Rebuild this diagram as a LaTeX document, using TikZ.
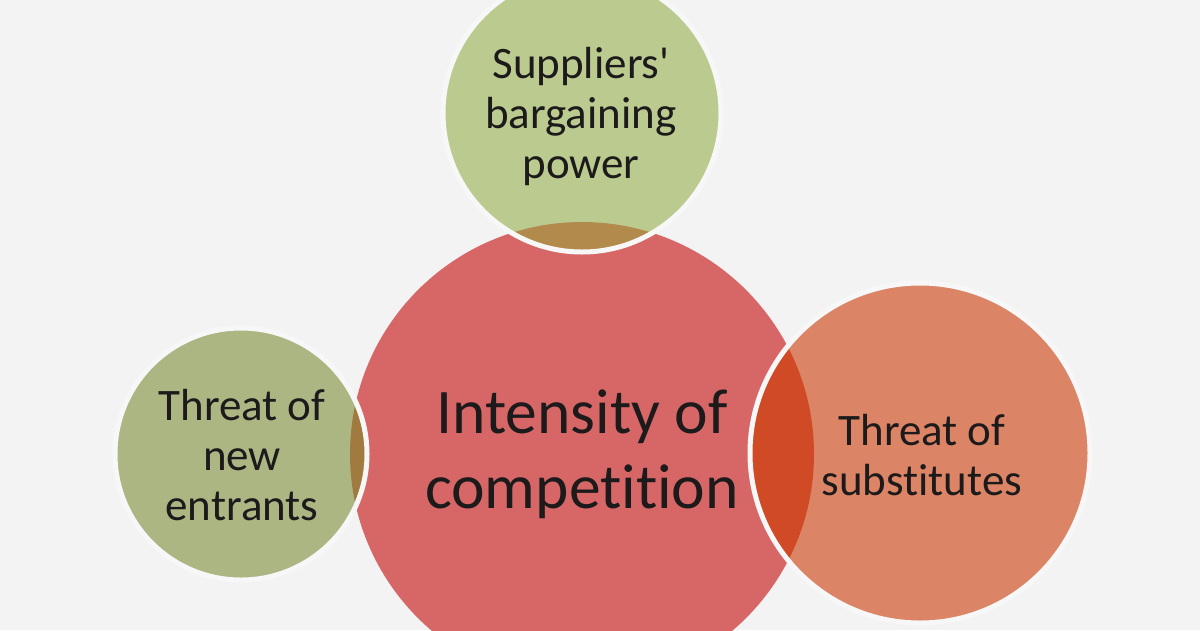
\documentclass[tikz,border=0pt]{standalone}
\usepackage{fontspec}
\setmainfont{Carlito}[Ligatures={TeXOff,NoCommon}]
\definecolor{bg}{HTML}{F3F3F3}
\definecolor{mainred}{HTML}{D66766}
\definecolor{greentop}{HTML}{BBCB90}
\definecolor{greenleft}{HTML}{ABB683}
\definecolor{orangeright}{HTML}{DB8466}
\definecolor{lenstop}{HTML}{B28A4C}
\definecolor{lensleft}{HTML}{A07A3E}
\definecolor{lensright}{HTML}{D04A26}
\definecolor{ink}{HTML}{1C1A1A}
\definecolor{rim}{HTML}{F7F7F7}
\tikzset{
  disc/.style={circle, inner sep=0pt, outer sep=0pt, draw=none},
  rimline/.style={draw=rim, line width=5pt},
  bigtext/.style={text=ink, align=center, font=\fontsize{63.5}{75}\selectfont},
  smalltext/.style={text=ink, align=center, font=\fontsize{45}{50}\selectfont}
}
\begin{document}
\begin{tikzpicture}[x=1pt,y=-1pt]
\useasboundingbox (0,0) rectangle (1200,630);
\clip (0,0) rectangle (1200,630);
\fill[bg] (0,0) rectangle (1200,630);
% main circle
\node[disc, fill=mainred, minimum size=464pt] (main) at (582,454) {};
% top circle
\node[disc, fill=greentop, minimum size=278pt] (sup) at (582,113) {};
\begin{scope}
  \clip (sup.center) circle (139pt);
  \fill[lenstop] (main.center) circle (232pt);
\end{scope}
\draw[rimline] (sup.center) circle (139pt);
% left circle
\node[disc, fill=greenleft, minimum size=252pt] (ent) at (241,454) {};
\begin{scope}
  \clip (ent.center) circle (126pt);
  \fill[lensleft] (main.center) circle (232pt);
\end{scope}
\draw[rimline] (ent.center) circle (126pt);
% right circle
\node[disc, fill=orangeright, minimum size=340pt] (sub) at (920,453) {};
\begin{scope}
  \clip (sub.center) circle (170pt);
  \fill[lensright] (main.center) circle (232pt);
\end{scope}
\draw[rimline] (sub.center) circle (170pt);
% texts
\node[bigtext] (maint) at (582,454) {Intensity of\\competition};
\node[smalltext] (supt) at (581,116) {Suppliers'\\bargaining\\power};
\node[smalltext] (entt) at (242,455) {Threat of\\new\\entrants};
\node[smalltext] (subt) at (922,455) {Threat of\\substitutes};
\end{tikzpicture}
\end{document}
